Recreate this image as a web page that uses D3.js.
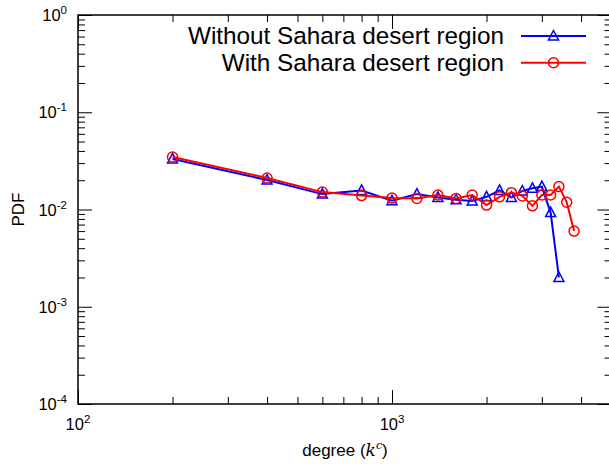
<!DOCTYPE html>
<html>
<head>
<meta charset="utf-8">
<script src="https://cdn.jsdelivr.net/npm/d3@7"></script>
<style>
  body { margin: 0; background: #fff; }
  svg { display: block; font-family: "Liberation Sans", Arial, Helvetica, sans-serif; }
</style>
</head>
<body>
<svg id="chart"></svg>
<script>
// degree values (k^c) and PDF for each series
const degreesWithout = [200, 400, 600, 800, 1000, 1200, 1400, 1600, 1800, 2000, 2200, 2400, 2600, 2800, 3000, 3200, 3400];
const pdfWithout = [0.0331, 0.0201, 0.0144, 0.0157, 0.0123, 0.0144, 0.0133, 0.0126, 0.0122, 0.0135, 0.0157, 0.0133, 0.0155, 0.0165, 0.0172, 0.0093, 0.0020];

const degreesWith = [200, 400, 600, 800, 1000, 1200, 1400, 1600, 1800, 2000, 2200, 2400, 2600, 2800, 3000, 3200, 3400, 3600, 3800];
const pdfWith = [0.0347, 0.0211, 0.0151, 0.0139, 0.0131, 0.0130, 0.0141, 0.0130, 0.0141, 0.0111, 0.0135, 0.0149, 0.0138, 0.0109, 0.0141, 0.0141, 0.0172, 0.0119, 0.0060];

const seriesNames = ["Without Sahara desert region", "With Sahara desert region"];
const seriesColors = ["#0000ff", "#ff0000"];

const xMajorTicks = [100, 1000];
const xMinorTicks = [200, 300, 400, 500, 600, 700, 800, 900, 2000, 3000, 4000];
const yMajorTicks = [1e-4, 1e-3, 1e-2, 1e-1, 1];
const yExponents = [-4, -3, -2, -1, 0];
const xExponents = [2, 3];

const width = 609, height = 464;
const margin = {top: 15, left: 78, bottom: 60, right: -2.5};

const svg = d3.select("#chart").attr("width", width).attr("height", height);

const x = d3.scaleLog().domain([100, 5000]).range([margin.left, width - margin.right]);
const y = d3.scaleLog().domain([1e-4, 1]).range([height - margin.bottom, margin.top]);

let yMinor = [];
for (let e = -4; e < 0; e++) for (let m = 2; m <= 9; m++) yMinor.push(m * Math.pow(10, e));

// ticks on all four sides, pointing inward
function drawTicks(axisFn, scale, values, size, translate) {
  const g = svg.append("g")
    .attr("transform", translate)
    .call(axisFn(scale).tickValues(values).tickSize(size).tickFormat(""));
  g.select(".domain").remove();
  g.selectAll(".tick line").attr("stroke", "#000").attr("stroke-width", 1);
}
const x0 = x.range()[0], x1 = x.range()[1], y0 = y.range()[0], y1 = y.range()[1];
drawTicks(d3.axisBottom, x, xMajorTicks, -14, `translate(0,${y0})`);
drawTicks(d3.axisBottom, x, xMinorTicks, -7, `translate(0,${y0})`);
drawTicks(d3.axisTop, x, xMajorTicks, -14, `translate(0,${y1})`);
drawTicks(d3.axisTop, x, xMinorTicks, -7, `translate(0,${y1})`);
drawTicks(d3.axisLeft, y, yMajorTicks, -14, `translate(${x0},0)`);
drawTicks(d3.axisLeft, y, yMinor, -7, `translate(${x0},0)`);
drawTicks(d3.axisRight, y, yMajorTicks, -14, `translate(${x1},0)`);
drawTicks(d3.axisRight, y, yMinor, -7, `translate(${x1},0)`);

svg.append("rect")
  .attr("x", x0).attr("y", y1)
  .attr("width", x1 - x0).attr("height", y0 - y1)
  .attr("fill", "none").attr("stroke", "#000").attr("stroke-width", 1.5);

// tick labels with superscript exponents
yMajorTicks.forEach((v, i) => {
  const t = svg.append("text")
    .attr("x", x0 - 11).attr("y", y(v) + 6)
    .attr("text-anchor", "end").attr("font-size", 16.5);
  t.append("tspan").text("10");
  t.append("tspan").attr("dy", -7).attr("font-size", 11.5).text(yExponents[i]);
});
xMajorTicks.forEach((v, i) => {
  const t = svg.append("text")
    .attr("x", x(v)).attr("y", y0 + 26)
    .attr("text-anchor", "middle").attr("font-size", 16.5);
  t.append("tspan").text("10");
  t.append("tspan").attr("dy", -7).attr("font-size", 11.5).text(xExponents[i]);
});

// axis titles
const xl = svg.append("text")
  .attr("x", 345).attr("y", 456)
  .attr("text-anchor", "middle").attr("font-size", 17);
xl.append("tspan").text("degree (");
xl.append("tspan").attr("font-style", "italic").attr("font-family", "DejaVu Serif, serif").text("k");
xl.append("tspan").attr("font-style", "italic").attr("font-family", "DejaVu Serif, serif")
  .attr("font-size", 11).attr("dy", -7).text("c");
xl.append("tspan").attr("dy", 7).text(")");

svg.append("text")
  .attr("transform", `translate(24,${(y0 + y1) / 2}) rotate(-90)`)
  .attr("text-anchor", "middle").attr("font-size", 17)
  .text("PDF");

// series
const series = [
  {name: seriesNames[0], color: seriesColors[0], shape: "tri",
   values: degreesWithout.map((d, i) => ({k: d, p: pdfWithout[i]}))},
  {name: seriesNames[1], color: seriesColors[1], shape: "circ",
   values: degreesWith.map((d, i) => ({k: d, p: pdfWith[i]}))}
];

const line = d3.line().x(d => x(d.k)).y(d => y(d.p));
const triPath = "M0,-5.5L5,4L-5,4Z";

function marker(g, shape, color) {
  if (shape === "tri") {
    g.append("path").attr("d", triPath)
      .attr("fill", "none").attr("stroke", color).attr("stroke-width", 1.5);
  } else {
    g.append("circle").attr("r", 5)
      .attr("fill", "none").attr("stroke", color).attr("stroke-width", 1.5);
  }
}

series.forEach(s => {
  const g = svg.append("g");
  g.append("path").datum(s.values)
    .attr("d", line)
    .attr("fill", "none").attr("stroke", s.color).attr("stroke-width", 2);
  g.selectAll(".pt").data(s.values).join("g")
    .attr("transform", d => `translate(${x(d.k)},${y(d.p)})`)
    .each(function() { marker(d3.select(this), s.shape, s.color); });
});

// legend
series.forEach((s, i) => {
  const ly = 36 + i * 26.7;
  svg.append("text")
    .attr("x", 504).attr("y", ly + 8)
    .attr("text-anchor", "end").attr("font-size", 24.3)
    .text(s.name);
  svg.append("line")
    .attr("x1", 521).attr("x2", 586).attr("y1", ly).attr("y2", ly)
    .attr("stroke", s.color).attr("stroke-width", 2);
  const m = svg.append("g").attr("transform", `translate(553.5,${ly})`);
  marker(m, s.shape, s.color);
});
</script>
</body>
</html>
